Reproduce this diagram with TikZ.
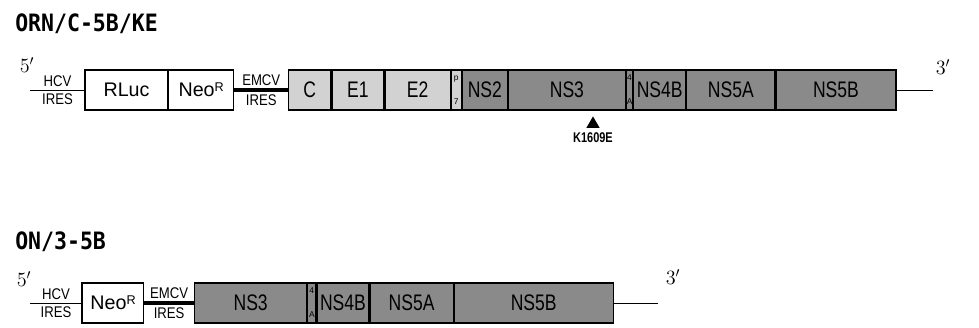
\documentclass[tikz,border=0pt]{standalone}
\usepackage{fontspec}
\setmainfont{Liberation Sans}
\newfontfamily\titlefont[FakeStretch=0.9]{DejaVu Sans Mono}
\newfontfamily\narrowfont[FakeStretch=0.78]{Liberation Sans}
\newfontfamily\iresfont[FakeStretch=0.85]{Liberation Sans}
\usetikzlibrary{positioning, shapes.geometric}
\definecolor{lightgene}{HTML}{D2D2D2}
\definecolor{darkgene}{HTML}{8A8A8A}
\newcommand{\neor}{Neo\raisebox{0.45ex}{\fontsize{9}{9}\selectfont R}}

\begin{document}
\begin{tikzpicture}[
      node distance=0pt,
      seg/.style={rectangle, draw=black, line width=0.8pt, minimum height=1cm,
                  inner sep=0pt, anchor=west},
      plainseg/.style={seg, fill=white, font=\fontsize{14}{16}\selectfont},
      lightseg/.style={seg, fill=lightgene, font=\narrowfont\fontsize{16}{16}\selectfont},
      darkseg/.style={seg, fill=darkgene, font=\narrowfont\fontsize{16}{16}\selectfont},
      tinyseg/.style={seg, align=center, font=\fontsize{6}{17}\selectfont},
      ires/.style={font=\iresfont\fontsize{11}{11}\selectfont, inner sep=0pt},
      title/.style={font=\titlefont\bfseries\fontsize{17}{18}\selectfont, anchor=west, inner sep=0pt},
      ends/.style={font=\fontsize{14}{14}\selectfont, inner sep=0pt},
      site/.style={regular polygon, regular polygon sides=3, fill=black, minimum size=0.38cm, inner sep=0pt},
      rna/.style={line width=0.6pt},
      emcv/.style={line width=2.2pt}
    ]
    \useasboundingbox (0,0) rectangle (24.475,-8.2);

    % ORN/C-5B/KE
    \node[title] (orn) at (0.375,-0.6) {ORN/C-5B/KE};
    \node[ends] (fiveA) at (0.675,-1.625) {$5'$};
    \coordinate (hcvA) at (0.75,-2.25);
    \node[plainseg, minimum width=2.05cm] (rluc) at (2.125,-2.25) {RLuc};
    \node[plainseg, minimum width=1.625cm, right=of rluc] (neoA) {\neor};
    \node[lightseg, minimum width=1.05cm, right=1.35cm of neoA] (core) {C};
    \node[lightseg, minimum width=1.3cm, right=of core] (e1) {E1};
    \node[lightseg, minimum width=1.625cm, right=of e1] (e2) {E2};
    \node[tinyseg, fill=lightgene, minimum width=0.25cm, right=of e2] (p7) {p\\7};
    \node[darkseg, minimum width=1.125cm, right=of p7] (ns2) {NS2};
    \node[darkseg, minimum width=2.925cm, right=of ns2] (ns3A) {NS3};
    \node[tinyseg, fill=darkgene, minimum width=0.15cm, right=of ns3A] (ns4aA) {4\\A};
    \node[darkseg, minimum width=1.3cm, right=of ns4aA] (ns4bA) {NS4B};
    \node[darkseg, minimum width=2.2cm, right=of ns4bA] (ns5aA) {NS5A};
    \node[darkseg, minimum width=3cm, right=of ns5aA] (ns5bA) {NS5B};
    \coordinate (tailA) at (23.325,-2.25);
    \node[ends] (threeA) at (23.575,-1.675) {$3'$};

    \draw[rna] (hcvA) -- (rluc.west)
      node[midway, above=2pt, ires] (hcvtA) {HCV}
      node[midway, below=2pt, ires] (hcvbA) {IRES};
    \draw[emcv] (neoA.east) -- (core.west)
      node[midway, above=2pt, ires] (emcvtA) {EMCV}
      node[midway, below=2pt, ires] (emcvbA) {IRES};
    \draw[rna] (ns5bA.east) -- (tailA);
    \draw[line width=2pt] (rluc.north west) -- (rluc.south west);

    \node[site] (kmut) at (14.825,-3.1) {};
    \node[below=0.1cm of kmut, font=\narrowfont\bfseries\fontsize{10}{10}\selectfont, inner sep=0pt] (kname) {K1609E};

    % ON/3-5B
    \node[title] (on) at (0.375,-6.05) {ON/3-5B};
    \node[ends] (fiveB) at (0.6,-6.975) {$5'$};
    \coordinate (hcvB) at (0.75,-7.575);
    \node[plainseg, minimum width=1.525cm] (neoB) at (2.05,-7.575) {\neor};
    \node[darkseg, minimum width=2.8cm, right=1.25cm of neoB] (ns3B) {NS3};
    \node[tinyseg, fill=darkgene, minimum width=0.2cm, right=of ns3B] (ns4aB) {4\\A};
    \node[darkseg, minimum width=1.3cm, right=of ns4aB] (ns4bB) {NS4B};
    \node[darkseg, minimum width=2.075cm, right=of ns4bB] (ns5aB) {NS5A};
    \node[darkseg, minimum width=3.975cm, right=of ns5aB] (ns5bB) {NS5B};
    \coordinate (tailB) at (16.45,-7.575);
    \node[ends] (threeB) at (16.825,-6.925) {$3'$};

    \draw[rna] (hcvB) -- (neoB.west)
      node[midway, above=2pt, ires] (hcvtB) {HCV}
      node[midway, below=2pt, ires] (hcvbB) {IRES};
    \draw[emcv] (neoB.east) -- (ns3B.west)
      node[midway, above=2pt, ires] (emcvtB) {EMCV}
      node[midway, below=2pt, ires] (emcvbB) {IRES};
    \draw[rna] (ns5bB.east) -- (tailB);
    \draw[line width=2pt] (neoB.north west) -- (neoB.south west);
  \end{tikzpicture}
\end{document}
